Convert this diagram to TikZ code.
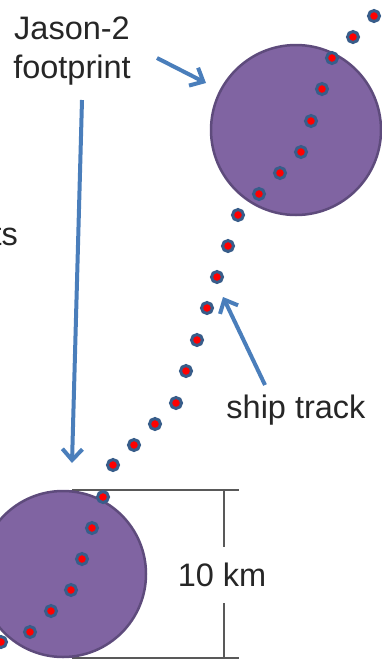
\documentclass[tikz,border=0pt]{standalone}
\usepackage{fontspec}
\setmainfont{Liberation Sans}
\usetikzlibrary{arrows.meta}
\definecolor{textgray}{RGB}{38, 38, 38}
\definecolor{footfill}{RGB}{128, 100, 162}
\definecolor{footedge}{RGB}{94, 75, 124}
\definecolor{trackblue}{RGB}{56, 93, 138}
\definecolor{arrowblue}{RGB}{74, 126, 187}
\definecolor{dimgray}{RGB}{89, 89, 89}

\begin{document}
\begin{tikzpicture}[
    x=1pt, y=-1pt,
    label/.style={text=textgray, font=\fontsize{32.5}{39}\selectfont, inner sep=0pt},
    footprint/.style={draw=footedge, fill=footfill, line width=2.5pt, circle, inner sep=0pt},
    shot/.style={draw=trackblue, fill=red, line width=3pt, circle, inner sep=0pt, minimum size=11pt},
    arr/.style={draw=arrowblue, line width=4pt, -{Straight Barb[length=11pt, width=20pt]}},
    dim/.style={draw=dimgray, line width=1.5pt}
]
    \useasboundingbox (0,0) rectangle (381,659);

    \coordinate (dim_tl) at (72,490);
    \coordinate (dim_tr) at (239,490);
    \coordinate (dim_bl) at (72,658);
    \coordinate (dim_br) at (239,658);
    \coordinate (dim_top) at (224,490);
    \coordinate (dim_bot) at (224,658);

    \draw [dim] (dim_tl) -- (dim_tr);
    \draw [dim] (dim_bl) -- (dim_br);

    \node [footprint, minimum size=170pt] (fp_top) at (296,130) {};
    \node [footprint, minimum size=166pt] (fp_bot) at (63,574) {};

    % ship track
    \foreach \x/\y [count=\i] in {374/16, 353/37, 332/58, 322/89, 311/121, 301/152,
        280/173, 259/194, 238/215, 228/246, 217/277, 207/308, 197/340, 186/371,
        176/403, 155/424, 134/445, 113/465, 103/497, 92/528, 82/559, 71/590,
        51/611, 30/632, 1/642}
        \node [shot] (shot\i) at (\x,\y) {};

    \node [label, align=center] (jason) at (72,51) {Jason-2\\footprint};
    \node [label, anchor=base east] (cut) at (18,245) {ts};
    \node [label, anchor=base] (ship) at (296,418) {ship track};
    \node [label, minimum height=55pt] (km) at (222,575) {10 km};

    \coordinate (jason_tail) at (157,58);
    \coordinate (jason_tip) at (206,83);
    \coordinate (down_tail) at (82,100);
    \coordinate (down_tip) at (72,463);
    \coordinate (ship_tail) at (265,385);
    \coordinate (ship_tip) at (223,297);

    \draw [arr] (jason_tail) -- (jason_tip);
    \draw [arr] (down_tail) -- (down_tip);
    \draw [arr] (ship_tail) -- (ship_tip);

    \draw [dim] (dim_top) -- (dim_top |- km.north);
    \draw [dim] (dim_bot) -- (dim_bot |- km.south);

\end{tikzpicture}
\end{document}
